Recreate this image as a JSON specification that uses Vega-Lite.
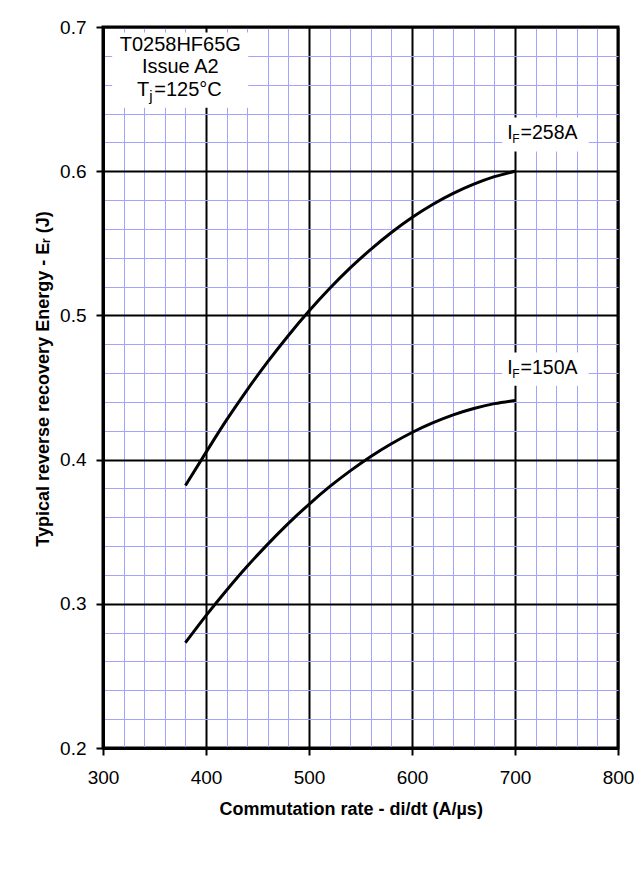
{
  "$schema": "https://vega.github.io/schema/vega-lite/v6.json",
  "width": 515,
  "height": 721,
  "autosize": {"type": "none"},
  "padding": {"left": 103, "top": 27, "right": 24, "bottom": 122},
  "background": "white",
  "config": {
    "view": {"stroke": "black", "strokeWidth": 3},
    "font": "Liberation Sans"
  },
  "datasets": {
    "curves": [
      {"di": 380, "E": 0.382, "IF": "258A"},
      {"di": 400, "E": 0.405, "IF": "258A"},
      {"di": 420, "E": 0.4275, "IF": "258A"},
      {"di": 440, "E": 0.4484, "IF": "258A"},
      {"di": 460, "E": 0.4679, "IF": "258A"},
      {"di": 480, "E": 0.4861, "IF": "258A"},
      {"di": 500, "E": 0.503, "IF": "258A"},
      {"di": 520, "E": 0.5186, "IF": "258A"},
      {"di": 540, "E": 0.5329, "IF": "258A"},
      {"di": 560, "E": 0.5458, "IF": "258A"},
      {"di": 580, "E": 0.5575, "IF": "258A"},
      {"di": 600, "E": 0.5679, "IF": "258A"},
      {"di": 620, "E": 0.5769, "IF": "258A"},
      {"di": 640, "E": 0.5846, "IF": "258A"},
      {"di": 660, "E": 0.591, "IF": "258A"},
      {"di": 680, "E": 0.5962, "IF": "258A"},
      {"di": 700, "E": 0.6, "IF": "258A"},
      {"di": 380, "E": 0.273, "IF": "150A"},
      {"di": 400, "E": 0.2918, "IF": "150A"},
      {"di": 420, "E": 0.3094, "IF": "150A"},
      {"di": 440, "E": 0.326, "IF": "150A"},
      {"di": 460, "E": 0.3414, "IF": "150A"},
      {"di": 480, "E": 0.3558, "IF": "150A"},
      {"di": 500, "E": 0.369, "IF": "150A"},
      {"di": 520, "E": 0.3812, "IF": "150A"},
      {"di": 540, "E": 0.3922, "IF": "150A"},
      {"di": 560, "E": 0.4022, "IF": "150A"},
      {"di": 580, "E": 0.411, "IF": "150A"},
      {"di": 600, "E": 0.4188, "IF": "150A"},
      {"di": 620, "E": 0.4254, "IF": "150A"},
      {"di": 640, "E": 0.431, "IF": "150A"},
      {"di": 660, "E": 0.4354, "IF": "150A"},
      {"di": 680, "E": 0.4388, "IF": "150A"},
      {"di": 700, "E": 0.441, "IF": "150A"}
    ],
    "boxes": [
      {"x1": 308.9, "x2": 441, "y1": 0.6962, "y2": 0.644},
      {"x1": 687.6, "x2": 771.5, "y1": 0.6372, "y2": 0.6137},
      {"x1": 687.6, "x2": 771.5, "y1": 0.4742, "y2": 0.4513}
    ],
    "boxtext": [
      {"t": "T0258HF65G", "x": 375, "y": 0.6832},
      {"t": "Issue A2", "x": 375, "y": 0.6678}
    ],
    "tj": [{"x": 333, "y": 0.652}],
    "iflabels": [
      {"x": 692.5, "y": 0.622, "rest": "=258A"},
      {"x": 692.5, "y": 0.4596, "rest": "=150A"}
    ]
  },
  "resolve": {"axis": {"x": "independent", "y": "independent"}},
  "layer": [
    {
      "data": {"name": "boxes"},
      "mark": {"type": "rect", "fill": "white", "strokeWidth": 0},
      "encoding": {
        "x": {
          "field": "x1", "type": "quantitative",
          "scale": {"domain": [300, 800], "nice": false, "zero": false},
          "axis": {
            "orient": "top",
            "values": [320, 340, 360, 380, 420, 440, 460, 480, 520, 540, 560, 580, 620, 640, 660, 680, 720, 740, 760, 780],
            "grid": true, "gridColor": "#a3a3ff", "gridWidth": 1,
            "labels": false, "ticks": false, "domain": false, "title": null
          }
        },
        "x2": {"field": "x2"},
        "y": {
          "field": "y1", "type": "quantitative",
          "scale": {"domain": [0.2, 0.7], "nice": false, "zero": false},
          "axis": {
            "orient": "right",
            "values": [0.22, 0.24, 0.26, 0.28, 0.32, 0.34, 0.36, 0.38, 0.42, 0.44, 0.46, 0.48, 0.52, 0.54, 0.56, 0.58, 0.62, 0.64, 0.66, 0.68],
            "grid": true, "gridColor": "#a3a3ff", "gridWidth": 1,
            "labels": false, "ticks": false, "domain": false, "title": null
          }
        },
        "y2": {"field": "y2"}
      }
    },
    {
      "data": {"name": "curves"},
      "mark": {"type": "line", "color": "black", "strokeWidth": 3, "interpolate": "monotone"},
      "encoding": {
        "x": {
          "field": "di", "type": "quantitative",
          "scale": {"domain": [300, 800], "nice": false, "zero": false},
          "axis": {
            "orient": "bottom",
            "values": [300, 400, 500, 600, 700, 800],
            "grid": true, "gridColor": "black", "gridWidth": 2,
            "tickColor": "black", "tickSize": 7, "tickWidth": 2,
            "labelFontSize": 19, "labelColor": "black", "labelPadding": 13,
            "labelFlush": false, "labelOverlap": false,
            "domainColor": "black", "domainWidth": 3,
            "title": "Commutation rate - di/dt (A/µs)",
            "titleFontSize": 18, "titleFontWeight": "bold", "titleColor": "black",
            "titleX": 247.7, "titleY": 66.5, "titleBaseline": "alphabetic", "titleAlign": "center"
          }
        },
        "y": {
          "field": "E", "type": "quantitative",
          "scale": {"domain": [0.2, 0.7], "nice": false, "zero": false},
          "axis": {
            "orient": "left",
            "values": [0.2, 0.3, 0.4, 0.5, 0.6, 0.7],
            "format": ".1f",
            "grid": true, "gridColor": "black", "gridWidth": 2,
            "tickColor": "black", "tickSize": 7, "tickWidth": 2,
            "labelFontSize": 19, "labelColor": "black", "labelPadding": 10,
            "labelFlush": false, "labelOverlap": false,
            "domainColor": "black", "domainWidth": 3,
            "title": "Typical reverse recovery Energy - Eᵣ (J)",
            "titleFontSize": 18, "titleFontWeight": "bold", "titleColor": "black",
            "titleAngle": 270,
            "titleX": -54.8, "titleY": 351.5, "titleBaseline": "alphabetic", "titleAlign": "center"
          }
        },
        "detail": {"field": "IF"}
      }
    },
    {
      "data": {"name": "boxtext"},
      "mark": {"type": "text", "align": "center", "baseline": "alphabetic", "fontSize": 20, "color": "black"},
      "encoding": {
        "x": {"field": "x", "type": "quantitative", "axis": null},
        "y": {"field": "y", "type": "quantitative", "axis": null},
        "text": {"field": "t"}
      }
    },
    {
      "data": {"name": "tj"},
      "mark": {"type": "text", "align": "left", "baseline": "alphabetic", "fontSize": 20, "color": "black"},
      "encoding": {
        "x": {"field": "x", "type": "quantitative", "axis": null},
        "y": {"field": "y", "type": "quantitative", "axis": null},
        "text": {"value": "T"}
      }
    },
    {
      "data": {"name": "tj"},
      "mark": {"type": "text", "align": "left", "baseline": "alphabetic", "fontSize": 15, "dx": 12.3, "dy": 5, "color": "black"},
      "encoding": {
        "x": {"field": "x", "type": "quantitative", "axis": null},
        "y": {"field": "y", "type": "quantitative", "axis": null},
        "text": {"value": "j"}
      }
    },
    {
      "data": {"name": "tj"},
      "mark": {"type": "text", "align": "left", "baseline": "alphabetic", "fontSize": 20, "dx": 17.3, "color": "black"},
      "encoding": {
        "x": {"field": "x", "type": "quantitative", "axis": null},
        "y": {"field": "y", "type": "quantitative", "axis": null},
        "text": {"value": "=125°C"}
      }
    },
    {
      "data": {"name": "iflabels"},
      "mark": {"type": "text", "align": "left", "baseline": "alphabetic", "fontSize": 19.5, "color": "black"},
      "encoding": {
        "x": {"field": "x", "type": "quantitative", "axis": null},
        "y": {"field": "y", "type": "quantitative", "axis": null},
        "text": {"value": "I"}
      }
    },
    {
      "data": {"name": "iflabels"},
      "mark": {"type": "text", "align": "left", "baseline": "alphabetic", "fontSize": 12, "dx": 5, "dy": 4, "color": "black"},
      "encoding": {
        "x": {"field": "x", "type": "quantitative", "axis": null},
        "y": {"field": "y", "type": "quantitative", "axis": null},
        "text": {"value": "F"}
      }
    },
    {
      "data": {"name": "iflabels"},
      "mark": {"type": "text", "align": "left", "baseline": "alphabetic", "fontSize": 19.5, "dx": 13.3, "color": "black"},
      "encoding": {
        "x": {"field": "x", "type": "quantitative", "axis": null},
        "y": {"field": "y", "type": "quantitative", "axis": null},
        "text": {"field": "rest"}
      }
    }
  ]
}
